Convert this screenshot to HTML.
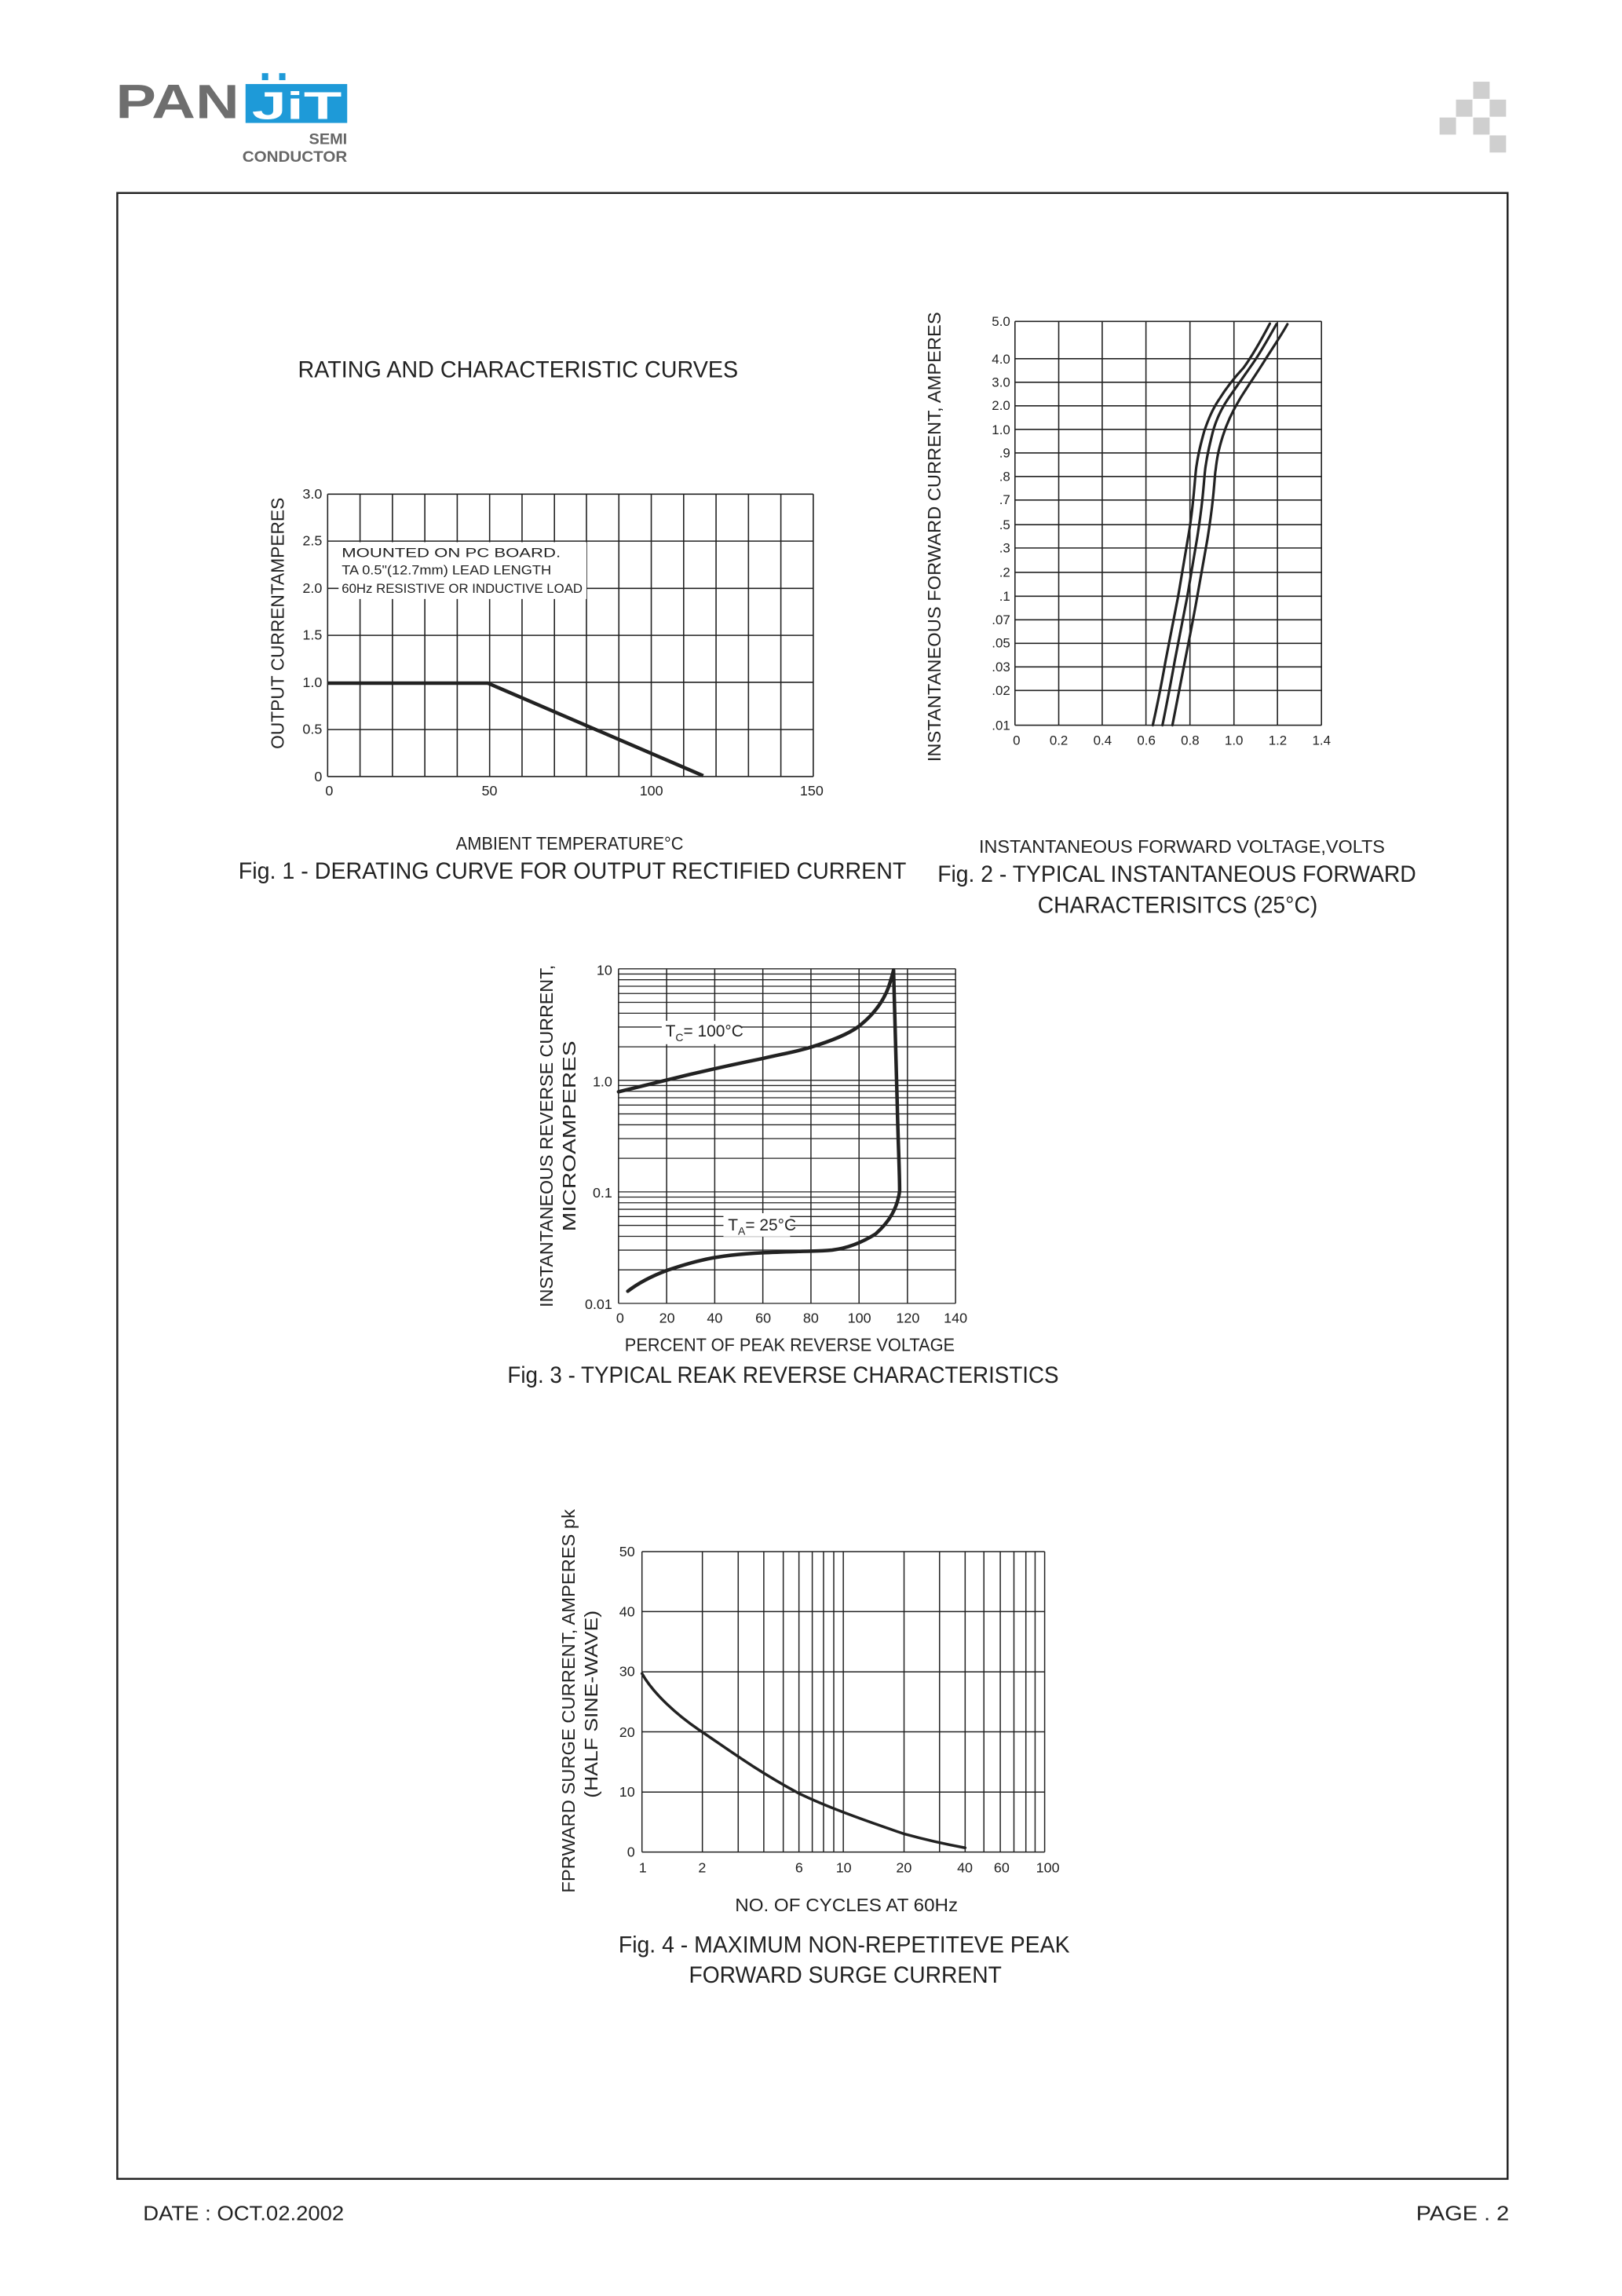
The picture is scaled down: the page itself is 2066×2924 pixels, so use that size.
<!DOCTYPE html>
<html><head><meta charset="utf-8"><style>
html,body{margin:0;padding:0;background:#fff}
svg{display:block}
text{font-family:"Liberation Sans",sans-serif;fill:#222}
</style></head><body>
<svg width="2066" height="2924" viewBox="0 0 2066 2924" xmlns="http://www.w3.org/2000/svg">
<rect width="2066" height="2924" fill="#fff"/>
<g transform="scale(0.996,0.991)">
<!-- Logo -->
<text x="148" y="152" font-size="62" font-weight="bold" fill="#6e6e6e" style="fill:#6e6e6e" textLength="158" lengthAdjust="spacingAndGlyphs">PAN</text>
<rect x="314" y="108" width="130" height="50" fill="#1e9ad8"/>
<rect x="335" y="94" width="8" height="9" fill="#1e9ad8"/>
<rect x="357" y="94" width="8" height="9" fill="#1e9ad8"/>
<text x="322" y="153" font-size="50" font-weight="bold" style="fill:#fff" textLength="115" lengthAdjust="spacingAndGlyphs">JiT</text>
<text x="444" y="185" font-size="20" font-weight="bold" text-anchor="end" style="fill:#666">SEMI</text>
<text x="444" y="208" font-size="20" font-weight="bold" text-anchor="end" style="fill:#666" textLength="134" lengthAdjust="spacingAndGlyphs">CONDUCTOR</text>
<g fill="#cfcfcf">
<rect x="1884" y="105" width="21" height="22"/>
<rect x="1862" y="128" width="21" height="22"/><rect x="1905" y="128" width="21" height="22"/>
<rect x="1841" y="151" width="21" height="22"/><rect x="1884" y="151" width="21" height="22"/>
<rect x="1905" y="174" width="21" height="22"/>
</g>
<!-- border -->
<rect x="150" y="248" width="1778" height="2552" fill="none" stroke="#222" stroke-width="2.5"/>

<text x="381" y="485" font-size="30" textLength="563" lengthAdjust="spacingAndGlyphs">RATING AND CHARACTERISTIC CURVES</text>

<!-- FIG 1 -->
<g transform="translate(419,635) scale(0.4818,0.3336) translate(-203,-90)" stroke="#222" stroke-width="1.6" fill="none">
<path vector-effect="non-scaling-stroke" d="M203,90V1178M289,90V1178M375,90V1178M461,90V1178M547,90V1178M633,90V1178M719,90V1178M805,90V1178M890,90V1178M976,90V1178M1062,90V1178M1148,90V1178M1234,90V1178M1320,90V1178M1406,90V1178M1492,90V1178"/>
<path vector-effect="non-scaling-stroke" d="M203,90H1492M203,271H1492M203,453H1492M203,634H1492M203,815H1492M203,997H1492M203,1178H1492"/>
<rect x="232" y="275" width="658" height="219" fill="#fff" stroke="none"/>
<path vector-effect="non-scaling-stroke" d="M203,818L628,818L1200,1175" stroke-width="4.5" stroke-linejoin="round"/>
</g>
<text x="437" y="716" font-size="17" textLength="280" lengthAdjust="spacingAndGlyphs">MOUNTED ON PC BOARD.</text>
<text x="437" y="738" font-size="17" textLength="268" lengthAdjust="spacingAndGlyphs">TA 0.5"(12.7mm) LEAD LENGTH</text>
<text x="437" y="762" font-size="17" textLength="308" lengthAdjust="spacingAndGlyphs">60Hz RESISTIVE OR INDUCTIVE LOAD</text>
<g font-size="18" text-anchor="end">
<text x="412" y="641">3.0</text><text x="412" y="701">2.5</text><text x="412" y="762">2.0</text><text x="412" y="822">1.5</text><text x="412" y="883">1.0</text><text x="412" y="943">0.5</text><text x="412" y="1004">0</text>
</g>
<g font-size="18" text-anchor="middle">
<text x="421" y="1022">0</text><text x="626" y="1022">50</text><text x="833" y="1022">100</text><text x="1038" y="1022">150</text>
</g>
<text transform="translate(363,801) rotate(-90)" font-size="23" text-anchor="middle" textLength="323" lengthAdjust="spacingAndGlyphs">OUTPUT CURRENTAMPERES</text>
<text x="583" y="1092" font-size="23" textLength="291" lengthAdjust="spacingAndGlyphs">AMBIENT TEMPERATURE°C</text>
<text x="305" y="1129" font-size="30" textLength="854" lengthAdjust="spacingAndGlyphs">Fig. 1 - DERATING CURVE FOR OUTPUT RECTIFIED CURRENT</text>

<!-- FIG 2 -->
<g transform="translate(1298,413) scale(0.335,0.3604) translate(-122,-30)" stroke="#222" fill="none">
<path vector-effect="non-scaling-stroke" stroke-width="1.6" d="M122,30V1470M289,30V1470M455,30V1470M622,30V1470M790,30V1470M958,30V1470M1124,30V1470M1292,30V1470"/>
<path vector-effect="non-scaling-stroke" stroke-width="1.6" d="M122,30H1292M122,163H1292M122,247H1292M122,331H1292M122,415H1292M122,499H1292M122,583H1292M122,667H1292M122,755H1292M122,838H1292M122,925H1292M122,1010H1292M122,1094H1292M122,1178H1292M122,1262H1292M122,1346H1292M122,1470H1292"/>
<g stroke-width="3.2" stroke-linecap="round" stroke-linejoin="round">
<path vector-effect="non-scaling-stroke" d="M648,1470C665,1400 680,1330 697,1240C715,1150 730,1080 745,1010C758,940 770,870 782,805C795,740 800,690 805,640C810,590 812,560 815,545C822,500 830,470 845,420C860,380 875,345 900,310C930,265 960,230 995,195C1030,150 1060,100 1095,38"/>
<path vector-effect="non-scaling-stroke" d="M685,1470C700,1400 715,1330 732,1240C750,1150 765,1080 780,1010C793,940 805,870 817,805C828,740 835,690 840,640C845,590 847,560 850,545C857,500 865,470 877,425C890,380 910,340 940,300C970,260 1000,220 1030,180C1060,140 1090,90 1120,40"/>
<path vector-effect="non-scaling-stroke" d="M723,1470C737,1400 752,1330 771,1240C790,1150 805,1080 818,1010C832,940 845,870 857,805C868,740 875,690 880,640C885,590 886,565 888,560C893,515 900,485 915,440C930,395 955,345 985,300C1015,255 1045,215 1075,170C1105,125 1135,85 1162,40"/>
</g>
</g>
<g font-size="17" text-anchor="end">
<text x="1292" y="419">5.0</text><text x="1292" y="467">4.0</text><text x="1292" y="497">3.0</text><text x="1292" y="527">2.0</text><text x="1292" y="558">1.0</text><text x="1292" y="588">.9</text><text x="1292" y="618">.8</text><text x="1292" y="648">.7</text><text x="1292" y="680">.5</text><text x="1292" y="710">.3</text><text x="1292" y="741">.2</text><text x="1292" y="772">.1</text><text x="1292" y="802">.07</text><text x="1292" y="832">.05</text><text x="1292" y="863">.03</text><text x="1292" y="893">.02</text><text x="1292" y="938">.01</text>
</g>
<g font-size="17" text-anchor="middle">
<text x="1300" y="957">0</text><text x="1354" y="957">0.2</text><text x="1410" y="957">0.4</text><text x="1466" y="957">0.6</text><text x="1522" y="957">0.8</text><text x="1578" y="957">1.0</text><text x="1634" y="957">1.2</text><text x="1690" y="957">1.4</text>
</g>
<text transform="translate(1203,690) rotate(-90)" font-size="23" text-anchor="middle" textLength="578" lengthAdjust="spacingAndGlyphs">INSTANTANEOUS FORWARD CURRENT, AMPERES</text>
<text x="1252" y="1096" font-size="23" textLength="519" lengthAdjust="spacingAndGlyphs">INSTANTANEOUS FORWARD VOLTAGE,VOLTS</text>
<text x="1199" y="1133" font-size="30" textLength="612" lengthAdjust="spacingAndGlyphs">Fig. 2 - TYPICAL INSTANTANEOUS FORWARD</text>
<text x="1327" y="1173" font-size="30" textLength="358" lengthAdjust="spacingAndGlyphs">CHARACTERISITCS (25°C)</text>

<!-- FIG 3 -->
<g transform="translate(791,1245) scale(0.3706,0.3341) translate(-313,-70)" stroke="#222" fill="none">
<path vector-effect="non-scaling-stroke" stroke-width="1.5" d="M313,70V1357M479,70V1357M645,70V1357M811,70V1357M977,70V1357M1143,70V1357M1310,70V1357M1476,70V1357"/>
<path vector-effect="non-scaling-stroke" stroke-width="1.3" d="M313,70H1476M313,499H1476M313,928H1476M313,1357H1476M313,1228H1476M313,1152H1476M313,1099H1476M313,1057H1476M313,1023H1476M313,995H1476M313,970H1476M313,948H1476M313,799H1476M313,723H1476M313,670H1476M313,628H1476M313,594H1476M313,566H1476M313,541H1476M313,519H1476M313,370H1476M313,294H1476M313,241H1476M313,199H1476M313,165H1476M313,137H1476M313,112H1476M313,90H1476"/>
<rect x="462" y="270" width="275" height="90" fill="#fff" stroke="none"/>
<rect x="675" y="1010" width="230" height="90" fill="#fff" stroke="none"/>
<path vector-effect="non-scaling-stroke" stroke-width="4.5" stroke-linejoin="round" stroke-linecap="round" d="M313,543C400,520 480,497 560,476C640,455 730,433 810,415C890,395 940,385 975,372C1040,350 1100,325 1140,293C1190,250 1225,200 1245,140C1255,105 1260,85 1262,75C1266,200 1270,400 1275,600C1278,750 1283,850 1283,925C1275,990 1250,1040 1200,1090C1150,1125 1100,1145 1050,1152C1000,1157 980,1155 940,1157C850,1160 780,1162 700,1172C620,1182 560,1200 480,1230C420,1255 380,1280 345,1310"/>
</g>
<text x="851" y="1332" font-size="21">T<tspan font-size="14" dy="6">C</tspan><tspan dy="-6">= 100°C</tspan></text>
<text x="931" y="1581" font-size="21">T<tspan font-size="14" dy="6">A</tspan><tspan dy="-6">= 25°C</tspan></text>
<g font-size="18" text-anchor="end">
<text x="783" y="1253">10</text><text x="783" y="1396">1.0</text><text x="783" y="1539">0.1</text><text x="783" y="1682">0.01</text>
</g>
<g font-size="18" text-anchor="middle">
<text x="793" y="1700">0</text><text x="853" y="1700">20</text><text x="914" y="1700">40</text><text x="976" y="1700">60</text><text x="1037" y="1700">80</text><text x="1099" y="1700">100</text><text x="1161" y="1700">120</text><text x="1222" y="1700">140</text>
</g>
<text transform="translate(707,1460) rotate(-90)" font-size="23" text-anchor="middle" textLength="440" lengthAdjust="spacingAndGlyphs">INSTANTANEOUS REVERSE CURRENT,</text>
<text transform="translate(736,1460) rotate(-90)" font-size="23" text-anchor="middle" textLength="245" lengthAdjust="spacingAndGlyphs">MICROAMPERES</text>
<text x="799" y="1736" font-size="23" textLength="422" lengthAdjust="spacingAndGlyphs">PERCENT OF PEAK REVERSE VOLTAGE</text>
<text x="649" y="1777" font-size="30" textLength="705" lengthAdjust="spacingAndGlyphs">Fig. 3 - TYPICAL REAK REVERSE CHARACTERISTICS</text>

<!-- FIG 4 -->
<g transform="translate(821,1994) scale(0.4364,0.3584) translate(-268,-163)" stroke="#222" fill="none">
<path vector-effect="non-scaling-stroke" stroke-width="1.5" d="M268,163V1240M445,163V1240M550,163V1240M625,163V1240M682,163V1240M728,163V1240M767,163V1240M800,163V1240M830,163V1240M858,163V1240M1036,163V1240M1140,163V1240M1215,163V1240M1270,163V1240M1318,163V1240M1358,163V1240M1393,163V1240M1420,163V1240M1448,163V1240"/>
<path vector-effect="non-scaling-stroke" stroke-width="1.5" d="M268,163H1448M268,378H1448M268,594H1448M268,809H1448M268,1025H1448M268,1240H1448"/>
<path vector-effect="non-scaling-stroke" stroke-width="3.5" stroke-linecap="round" d="M268,600C300,670 370,750 445,810C520,872 600,945 728,1030C800,1072 880,1110 1036,1175C1110,1200 1170,1215 1215,1225"/>
</g>
<g font-size="18" text-anchor="end">
<text x="812" y="2000">50</text><text x="812" y="2077">40</text><text x="812" y="2154">30</text><text x="812" y="2232">20</text><text x="812" y="2309">10</text><text x="812" y="2386">0</text>
</g>
<g font-size="18" text-anchor="middle">
<text x="822" y="2406">1</text><text x="898" y="2406">2</text><text x="1022" y="2406">6</text><text x="1079" y="2406">10</text><text x="1156" y="2406">20</text><text x="1234" y="2406">40</text><text x="1281" y="2406">60</text><text x="1340" y="2406">100</text>
</g>
<text transform="translate(735,2186) rotate(-90)" font-size="23" text-anchor="middle" textLength="493" lengthAdjust="spacingAndGlyphs">FPRWARD SURGE CURRENT, AMPERES pk</text>
<text transform="translate(764,2190) rotate(-90)" font-size="23" text-anchor="middle" textLength="241" lengthAdjust="spacingAndGlyphs">(HALF SINE-WAVE)</text>
<text x="940" y="2456" font-size="23" textLength="285" lengthAdjust="spacingAndGlyphs">NO. OF CYCLES AT 60Hz</text>
<text x="791" y="2509" font-size="30" textLength="577" lengthAdjust="spacingAndGlyphs">Fig. 4 - MAXIMUM NON-REPETITEVE PEAK</text>
<text x="881" y="2548" font-size="30" textLength="400" lengthAdjust="spacingAndGlyphs">FORWARD SURGE CURRENT</text>

<!-- footer -->
<text x="183" y="2853" font-size="26" textLength="257" lengthAdjust="spacingAndGlyphs">DATE : OCT.02.2002</text>
<text x="1811" y="2853" font-size="26" textLength="119" lengthAdjust="spacingAndGlyphs">PAGE . 2</text>
</g>
</svg>
</body></html>
